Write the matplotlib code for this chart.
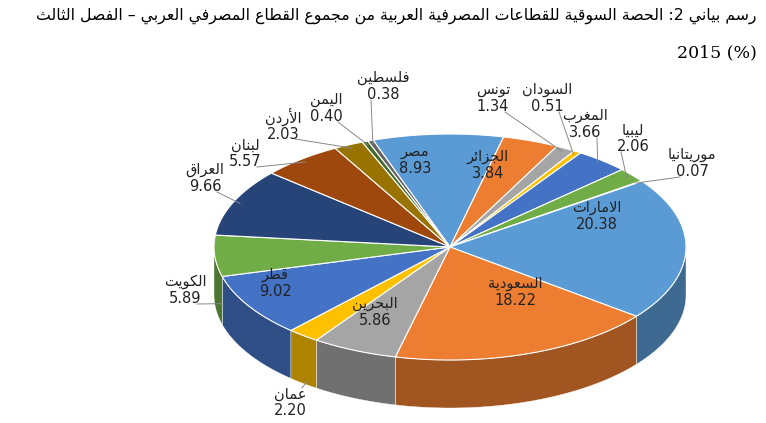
import unicodedata
import numpy as np
import matplotlib.pyplot as plt
from matplotlib.patches import Polygon
import matplotlib.colors as mcolors

plt.rcParams['font.family'] = ['DejaVu Sans']

countries = ['مصر', 'الجزائر', 'تونس', 'السودان', 'المغرب', 'ليبيا', 'موريتانيا',
             'الامارات', 'السعودية', 'البحرين', 'عمان', 'قطر', 'الكويت', 'العراق',
             'لبنان', 'الأردن', 'اليمن', 'فلسطين']
shares = [8.93, 3.84, 1.34, 0.51, 3.66, 2.06, 0.07, 20.38, 18.22, 5.86, 2.20,
          9.02, 5.89, 9.66, 5.57, 2.03, 0.40, 0.38]
colors = ['#5B9BD5', '#ED7D31', '#A5A5A5', '#FFC000', '#4472C4', '#70AD47', '#255E91',
          '#5B9BD5', '#ED7D31', '#A5A5A5', '#FFC000', '#4472C4', '#70AD47', '#264478',
          '#9E480E', '#997300', '#43682B', '#636363']
title1 = 'رسم بياني 2: الحصة السوقية للقطاعات المصرفية العربية من مجموع القطاع المصرفي العربي – الفصل الثالث'
title2 = '2015 (%)'

# label centres in pixels, and whether a leader line is drawn
label_pos = [(415, 160), (488, 165), (493, 98), (547, 98), (585, 124), (633, 138),
             (692, 163), (597, 216), (515, 292), (375, 312), (290, 402), (275, 283),
             (185, 290), (205, 178), (245, 153), (283, 125), (326, 108), (383, 86)]
leader = [False, False, True, True, True, True, True, False, False, False, True, False,
          True, True, True, True, True, True]


def shape(text):
    """Minimal Arabic shaping + visual reordering."""
    def form(ch, f):
        try:
            return unicodedata.lookup(unicodedata.name(ch) + ' ' + f + ' FORM')
        except (KeyError, ValueError):
            return None

    def is_ar(ch):
        return unicodedata.name(ch, '').startswith('ARABIC LETTER')

    def dual(ch):
        return is_ar(ch) and form(ch, 'INITIAL') is not None

    chars = list(text)
    out = []
    i = 0
    while i < len(chars):
        c = chars[i]
        prev = chars[i - 1] if i > 0 else ''
        cp = bool(prev) and dual(prev)
        if c == 'ل' and i + 1 < len(chars) and chars[i + 1] in 'اأإآ':
            nm = {'ا': 'ALEF', 'أ': 'ALEF WITH HAMZA ABOVE', 'إ': 'ALEF WITH HAMZA BELOW',
                  'آ': 'ALEF WITH MADDA ABOVE'}[chars[i + 1]]
            lig = unicodedata.lookup('ARABIC LIGATURE LAM WITH ' + nm + (' FINAL FORM' if cp else ' ISOLATED FORM'))
            out.append(lig)
            i += 2
            continue
        if is_ar(c):
            nxt = chars[i + 1] if i + 1 < len(chars) else ''
            cn = dual(c) and bool(nxt) and is_ar(nxt)
            f = 'MEDIAL' if cp and cn else 'FINAL' if cp else 'INITIAL' if cn else 'ISOLATED'
            out.append(form(c, f) or c)
        else:
            out.append(c)
        i += 1
    rev = out[::-1]
    res, run = [], []
    for ch in rev:
        if ch.isdigit() or ch == '.':
            run.append(ch)
        else:
            if run:
                res.extend(run[::-1]); run = []
            res.append(ch)
    res.extend(run[::-1])
    return ''.join(res)


fig = plt.figure(figsize=(7.66, 4.23), dpi=100)
ax = fig.add_axes([0, 0, 1, 1])
ax.set_xlim(0, 766)
ax.set_ylim(423, 0)
ax.axis('off')

cx, cy, a, b, depth = 450, 247, 236, 113, 48
start = 109.0
vals = np.array(shares)
ang = np.concatenate([[0], np.cumsum(vals) / vals.sum() * 360])
t0s = start - ang[:-1]
t1s = start - ang[1:]


def pt(t, r=1.0):
    return cx + r * a * np.cos(np.radians(t)), cy - r * b * np.sin(np.radians(t))


for t0, t1, col in zip(t0s, t1s, colors):
    ts = np.linspace(t1, t0, 120)
    m = np.sin(np.radians(ts)) <= 0.001
    if m.sum() < 2:
        continue
    ts = ts[m]
    xs, ys = pt(ts)
    poly = list(zip(xs, ys)) + list(zip(xs[::-1], ys[::-1] + depth))
    dark = np.array(mcolors.to_rgb(col)) * 0.68
    ax.add_patch(Polygon(poly, closed=True, fc=dark, ec='white', lw=0.3, zorder=1))

for t0, t1, col in zip(t0s, t1s, colors):
    ts = np.linspace(t1, t0, 120)
    xs, ys = pt(ts)
    poly = [(cx, cy)] + list(zip(xs, ys))
    ax.add_patch(Polygon(poly, closed=True, fc=col, ec='white', lw=0.8, zorder=2))

for name, v, t0, t1, (x, y), ld in zip(countries, shares, t0s, t1s, label_pos, leader):
    txt = shape(name) + '\n' + f'{v:.2f}'
    ax.text(x, y, txt, ha='center', va='center', fontsize=10.5, color='#222222',
            linespacing=1.1, zorder=4)
    if ld:
        tm = (t0 + t1) / 2
        ex, ey = pt(tm, 0.97)
        if np.sin(np.radians(tm)) < 0:
            ey += depth
        lx = x + (12 if ex > x else -12)
        ly = y + (14 if ey > y else -14)
        ax.plot([ex, lx], [ey, ly], color='#888888', lw=0.7, zorder=3)

ax.text(757, 8, shape(title1), ha='right', va='top', fontsize=11.3)
ax.text(757, 44, title2, ha='right', va='top', fontsize=12.5, family='DejaVu Serif')

fig.savefig('out.png', dpi=100)
